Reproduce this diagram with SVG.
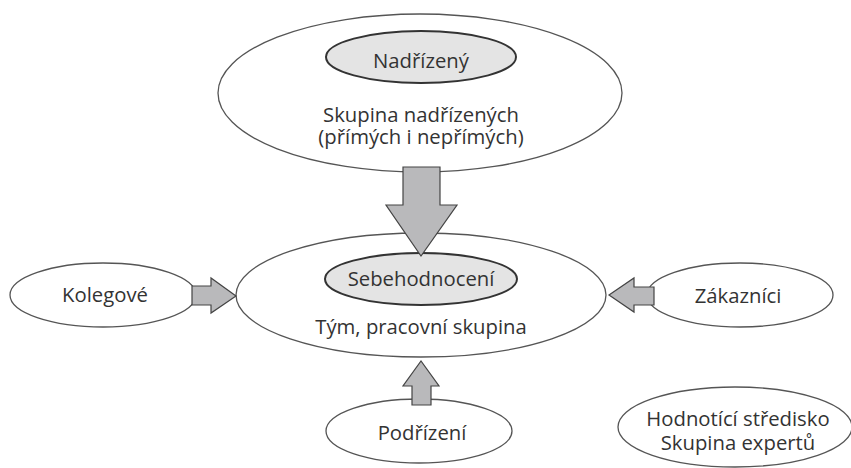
<svg xmlns="http://www.w3.org/2000/svg" width="851" height="468" viewBox="0 0 851 468">
<style>
.outer{fill:#fff;stroke:#555;stroke-width:1.3}
.inner{fill:#e4e4e4;stroke:#333;stroke-width:2}
.arrow{fill:#b9b9bb;stroke:#444;stroke-width:1.2;stroke-linejoin:miter}
text{font-family:"Open Sans","Noto Sans","DejaVu Sans",sans-serif;font-size:20.3px;fill:#333;text-anchor:middle}
</style>
<rect width="851" height="468" fill="#fff"/>
<g id="nadrizeni">
<ellipse class="outer" cx="420" cy="93" rx="202" ry="79"/>
<ellipse class="inner" cx="421" cy="57" rx="95" ry="26"/>
<text x="421" y="68">Nadřízený</text>
<text x="421" y="121.5">Skupina nadřízených</text>
<text x="421" y="143.5">(přímých i nepřímých)</text>
</g>
<g id="tym">
<ellipse class="outer" cx="421" cy="295" rx="185" ry="62"/>
<ellipse class="inner" cx="421" cy="279" rx="96" ry="26"/>
<text x="421" y="286">Sebehodnocení</text>
<text x="421" y="333.5">Tým, pracovní skupina</text>
</g>
<g id="kolegove">
<ellipse class="outer" cx="103" cy="295" rx="93" ry="32"/>
<text x="105" y="302">Kolegové</text>
</g>
<g id="zakaznici">
<ellipse class="outer" cx="740" cy="295" rx="93" ry="32"/>
<text x="738" y="303">Zákazníci</text>
</g>
<g id="podrizeni">
<ellipse class="outer" cx="419" cy="431" rx="93" ry="32"/>
<text x="422" y="440">Podřízení</text>
</g>
<g id="hodnotici">
<ellipse class="outer" cx="735" cy="427" rx="117" ry="40"/>
<text x="738" y="426">Hodnotící středisko</text>
<text x="738" y="450">Skupina expertů</text>
</g>
<g id="connectors">
<polygon class="arrow" points="403,167 440,167 440,205 457,205 421,256 386,205 403,205"/>
<polygon class="arrow" points="192,286 211,286 211,278 236,296 211,313 211,305 192,305"/>
<polygon class="arrow" points="654,287 634,287 634,278 609,295 634,312 634,305 654,305"/>
<polygon class="arrow" points="412,405 412,386 403,386 421,361 439,386 431,386 431,405"/>
</g>
</svg>
